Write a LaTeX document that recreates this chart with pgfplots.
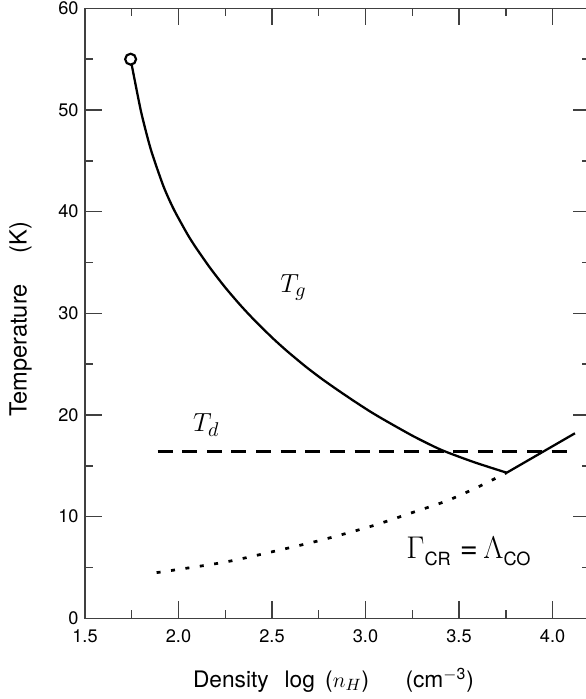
\documentclass[border=0pt]{standalone}
\usepackage[no-math]{fontspec}
\setmainfont{TeX Gyre Heros}
\usepackage{pgfplots}
\pgfplotsset{compat=1.18}
\begin{document}
\begin{tikzpicture}
\begin{axis}[
  scale only axis,
  width=277.75pt, height=335.5pt,
  xmin=1.5, xmax=4.2, ymin=0, ymax=60,
  xtick={1.5,2.0,2.5,3.0,3.5,4.0},
  ytick={0,10,20,30,40,50,60},
  minor x tick num=1, minor y tick num=1,
  tick align=inside,
  major tick length=9.35pt, minor tick length=4.4pt,
  axis line style={black!75, line width=0.8pt},
  tick style={black!75, line width=0.8pt},
  /pgf/number format/assume math mode=true,
  xticklabel={\pgfmathprintnumber[fixed,fixed zerofill,precision=1]{\tick}},
  yticklabel={\pgfmathprintnumber[fixed,precision=0]{\tick}},
  tick label style={font=\fontsize{10}{12}\selectfont},
  xticklabel style={yshift=-2.7pt},
  xlabel={Density\hspace{0.7em}log\hspace{0.45em}($n_H$)\hspace{1.6em}(cm\textsuperscript{$-$3})},
  ylabel={Temperature\hspace{1.3em}(K)},
  xlabel style={font=\fontsize{12.5}{14}\selectfont, at={(axis description cs:0.492,-0.1131)}, anchor=base},
  ylabel style={font=\fontsize{13}{15}\selectfont, at={(axis description cs:-0.1154,0.49)}, anchor=base, rotate=0},
  clip=false,
]
% T_g descending branch
\addplot[black, line width=1.25pt, smooth, tension=0.4] coordinates {
  (1.744,55.00) (1.800,49.82) (1.853,46.06) (1.920,42.48) (1.975,40.22)
  (2.050,37.71) (2.097,36.36) (2.170,34.44) (2.250,32.54) (2.330,30.82)
  (2.400,29.44) (2.500,27.62) (2.580,26.29) (2.680,24.76) (2.765,23.57)
  (2.850,22.47) (2.940,21.35) (3.030,20.28) (3.113,19.38) (3.260,17.87)
  (3.407,16.55) (3.580,15.36) (3.755,14.32)
};
% T_g rising branch
\addplot[black, line width=1.25pt] coordinates {
  (3.755,14.32) (4.120,18.20)
};
% T_d dashed
\addplot[black, line width=1.65pt, dash pattern=on 8.25pt off 5.3pt] coordinates {
  (1.888,16.39) (4.085,16.39)
};
% Gamma_CR = Lambda_CO dotted
\addplot[black, line width=1.5pt, dash pattern=on 2.2pt off 5.8pt, smooth, tension=0.5] coordinates {
  (1.883,4.49) (2.240,5.50) (2.507,6.57) (2.774,7.74) (3.042,9.12)
  (3.250,10.40) (3.434,11.55) (3.600,12.90) (3.755,14.32)
};
% open circle at start
\addplot[only marks, mark=*, mark size=3pt, mark options={fill=white, draw=black, line width=1.2pt}] coordinates {(1.744,55.0)};
\node[anchor=base west, inner sep=0pt] at (axis cs:2.543,32.0) {\fontsize{15}{15}\selectfont$T_g$};
\node[anchor=base west, inner sep=0pt] at (axis cs:2.076,18.35) {\fontsize{15}{15}\selectfont$T_d$};
\node[anchor=base west, inner sep=0pt] at (axis cs:3.217,5.90) {\fontsize{17}{17}\selectfont$\Gamma$\raisebox{-3.7pt}{\fontsize{10}{10}\selectfont CR}\hspace{5pt}=\hspace{3pt}$\Lambda$\raisebox{-3.7pt}{\fontsize{10}{10}\selectfont CO}};
\end{axis}
\pgfresetboundingbox
\path ([shift={(-46.75pt,-44.4pt)}]current axis.south west) rectangle ([shift={(-2.2pt,4.6pt)}]current axis.north east);
\end{tikzpicture}
\end{document}
